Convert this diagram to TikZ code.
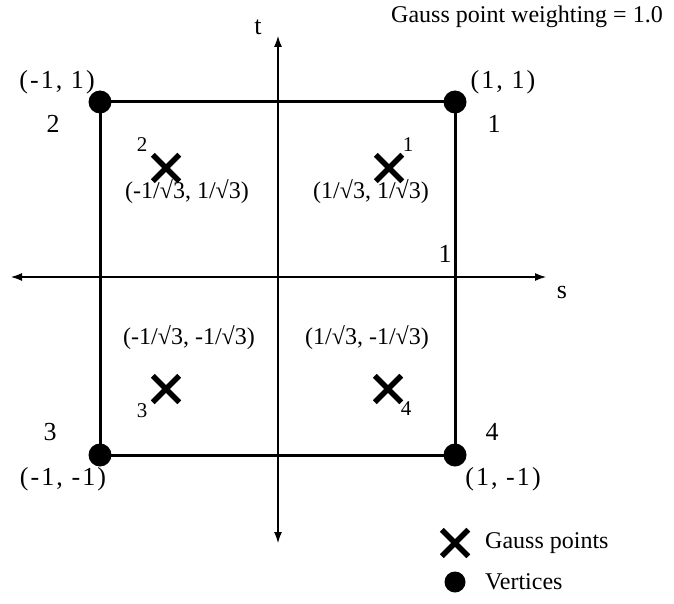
\documentclass[tikz,border=0pt]{standalone}
\usepackage{fontspec}
\setmainfont{Liberation Serif}
\newfontfamily\widefont[LetterSpace=8]{Liberation Serif}
\usetikzlibrary{arrows.meta,shapes.misc}
\begin{document}
\begin{tikzpicture}[x=1pt,y=-1pt,
  every node/.style={font=\fontsize{24}{28}\selectfont, inner sep=0pt},
  axis/.style={line width=1.1pt, {Latex[length=11pt,width=8pt]}-{Latex[length=11pt,width=8pt]}},
  edge/.style={line width=3pt},
  vtx/.style={circle, fill=black, minimum size=23pt, inner sep=0pt},
  gauss/.style={cross out, draw=black, line width=5.5pt, minimum size=21pt, inner sep=0pt},
  small/.style={font=\fontsize{21}{24}\selectfont},
  vlab/.style={font=\widefont\fontsize{26}{30}\selectfont},
  vnum/.style={font=\fontsize{26}{30}\selectfont}
]
\useasboundingbox (0,0) rectangle (674,604);
% axes
\coordinate (tTop) at (278,36);
\coordinate (tBot) at (278,543);
\coordinate (sL) at (11,277);
\coordinate (sR) at (546,277);
\draw[axis] (tBot) -- (tTop);
\draw[axis] (sL) -- (sR);
\node[vnum] (tlab) at (258,27) {t};
\node[vnum] (slab) at (562,292) {s};
% square
\coordinate (c1) at (455,102);
\coordinate (c2) at (100,102);
\coordinate (c3) at (100,455);
\coordinate (c4) at (455,455);
\draw[edge] (c1) -- (c2) -- (c3) -- (c4) -- cycle;
\node[vtx] (v1) at (c1) {};
\node[vtx] (v2) at (c2) {};
\node[vtx] (v3) at (c3) {};
\node[vtx] (v4) at (c4) {};
% vertex labels
\node[vlab] (v2c) at (57,82) {(-1, 1)};
\node[vnum] (v2n) at (53,124) {2};
\node[vlab] (v1c) at (503,82) {(1, 1)};
\node[vnum] (v1n) at (494,124) {1};
\node[vnum] (v3n) at (50,432) {3};
\node[vlab] (v3c) at (63,479) {(-1, -1)};
\node[vnum] (v4n) at (492,432) {4};
\node[vlab] (v4c) at (503,479) {(1, -1)};
\node[vnum] (edgeone) at (445,254) {1};
% gauss points
\node[gauss] (g1) at (389,168) {};
\node[gauss] (g2) at (166,168) {};
\node[gauss] (g3) at (166,389) {};
\node[gauss] (g4) at (388,389) {};
\node[small] (g1n) at (408,145) {1};
\node[small] (g2n) at (142,145) {2};
\node[small] (g3n) at (142,411) {3};
\node[small] (g4n) at (406,409) {4};
\node (g2c) at (187,192) {(-1/√3, 1/√3)};
\node (g1c) at (371,192) {(1/√3, 1/√3)};
\node (g3c) at (189,338) {(-1/√3, -1/√3)};
\node (g4c) at (367,338) {(1/√3, -1/√3)};
% title
\node (title) at (527,17) {Gauss point weighting = 1.0};
% legend
\node[gauss] (lg) at (455,543) {};
\node[anchor=west] (lgt) at (485,543) {Gauss points};
\node[vtx, minimum size=21pt] (lv) at (455,582) {};
\node[anchor=west] (lvt) at (485,582) {Vertices};
\end{tikzpicture}
\end{document}
